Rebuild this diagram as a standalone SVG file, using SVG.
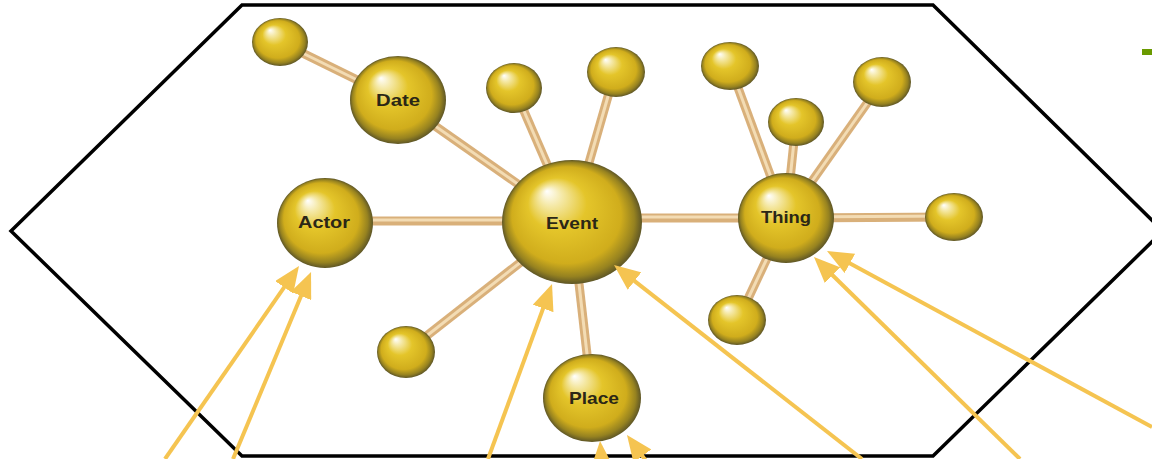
<svg xmlns="http://www.w3.org/2000/svg" width="1152" height="459" viewBox="0 0 1152 459">
<defs>
<radialGradient id="ball" cx="0.5" cy="0.5" r="0.5" fx="0.32" fy="0.25">
<stop offset="0" stop-color="#ffffff"/>
<stop offset="0.16" stop-color="#f5e9a8"/>
<stop offset="0.42" stop-color="#e4c52a"/>
<stop offset="0.78" stop-color="#d0ad1c"/>
<stop offset="0.92" stop-color="#968220"/>
<stop offset="1" stop-color="#5e5626"/>
</radialGradient>
<marker id="ah" viewBox="0 0 26 22" refX="16" refY="11" markerWidth="26" markerHeight="22" markerUnits="userSpaceOnUse" orient="auto">
<path d="M0,0 L26,11 L0,22 z" fill="#f5c451"/>
</marker>
<style>
.hex{fill:none;stroke:#000;stroke-width:3.5;stroke-linejoin:miter}
.rod{stroke:#d9b07a;stroke-width:9;stroke-linecap:butt}
.rodh{stroke:#f3dcb4;stroke-width:3;stroke-linecap:butt}
.b{fill:url(#ball)}
.lbl{font-family:"Liberation Sans",Arial,sans-serif;font-weight:bold;font-size:17px;fill:#2b2716;text-anchor:middle;dominant-baseline:central}
.arr{stroke:#f5c451;stroke-width:4;fill:none;marker-end:url(#ah)}
</style>
</defs>
<polygon class="hex" points="242,5 933,5 1163,231 933,456 242,456 11,231"/>
<rect x="1142" y="49" width="10" height="6" fill="#6a9a00"/>
<g id="connectors">
<g id="rods">
<line class="rod" x1="280" y1="42" x2="398" y2="100"/>
<line class="rod" x1="398" y1="100" x2="572" y2="222"/>
<line class="rod" x1="514" y1="88" x2="572" y2="222"/>
<line class="rod" x1="615" y1="72" x2="572" y2="222"/>
<line class="rod" x1="325" y1="221" x2="572" y2="221"/>
<line class="rod" x1="572" y1="218" x2="786" y2="218"/>
<line class="rod" x1="572" y1="222" x2="406" y2="352"/>
<line class="rod" x1="572" y1="222" x2="592" y2="398"/>
<line class="rod" x1="730" y1="66" x2="786" y2="218"/>
<line class="rod" x1="796" y1="122" x2="786" y2="218"/>
<line class="rod" x1="882" y1="82" x2="786" y2="218"/>
<line class="rod" x1="786" y1="218" x2="954" y2="217"/>
<line class="rod" x1="786" y1="218" x2="738" y2="320"/>
<line class="rodh" x1="280" y1="42" x2="398" y2="100"/>
<line class="rodh" x1="398" y1="100" x2="572" y2="222"/>
<line class="rodh" x1="514" y1="88" x2="572" y2="222"/>
<line class="rodh" x1="615" y1="72" x2="572" y2="222"/>
<line class="rodh" x1="325" y1="220" x2="572" y2="220"/>
<line class="rodh" x1="572" y1="217" x2="786" y2="217"/>
<line class="rodh" x1="572" y1="222" x2="406" y2="352"/>
<line class="rodh" x1="572" y1="222" x2="592" y2="398"/>
<line class="rodh" x1="730" y1="66" x2="786" y2="218"/>
<line class="rodh" x1="796" y1="122" x2="786" y2="218"/>
<line class="rodh" x1="882" y1="82" x2="786" y2="218"/>
<line class="rodh" x1="786" y1="217" x2="954" y2="216"/>
<line class="rodh" x1="786" y1="218" x2="738" y2="320"/>
</g>
</g>
<g id="n-s1"><ellipse class="b" cx="280" cy="42" rx="28" ry="24"/></g>
<g id="n-date"><ellipse class="b" cx="398" cy="100" rx="48" ry="44"/><text class="lbl" x="398" y="100" textLength="44" lengthAdjust="spacingAndGlyphs">Date</text></g>
<g id="n-s2"><ellipse class="b" cx="514" cy="88" rx="28" ry="25"/></g>
<g id="n-s3"><ellipse class="b" cx="616" cy="72" rx="29" ry="25"/></g>
<g id="n-s4"><ellipse class="b" cx="730" cy="66" rx="29" ry="24"/></g>
<g id="n-s5"><ellipse class="b" cx="796" cy="122" rx="28" ry="24"/></g>
<g id="n-s6"><ellipse class="b" cx="882" cy="82" rx="29" ry="25"/></g>
<g id="n-actor"><ellipse class="b" cx="325" cy="223" rx="48" ry="45"/><text class="lbl" x="324" y="222" textLength="52" lengthAdjust="spacingAndGlyphs">Actor</text></g>
<g id="n-event"><ellipse class="b" cx="572" cy="222" rx="70" ry="62"/><text class="lbl" x="572" y="223" textLength="52" lengthAdjust="spacingAndGlyphs">Event</text></g>
<g id="n-thing"><ellipse class="b" cx="786" cy="218" rx="48" ry="45"/><text class="lbl" x="786" y="217" textLength="50" lengthAdjust="spacingAndGlyphs">Thing</text></g>
<g id="n-s7"><ellipse class="b" cx="954" cy="217" rx="29" ry="24"/></g>
<g id="n-s8"><ellipse class="b" cx="737" cy="320" rx="29" ry="25"/></g>
<g id="n-s9"><ellipse class="b" cx="406" cy="352" rx="29" ry="26"/></g>
<g id="n-place"><ellipse class="b" cx="592" cy="398" rx="49" ry="44"/><text class="lbl" x="594" y="398" textLength="50" lengthAdjust="spacingAndGlyphs">Place</text></g>
<g id="arrows">
<line class="arr" x1="165" y1="459" x2="293.3" y2="274.2"/>
<line class="arr" x1="233" y1="459" x2="307.2" y2="281.2"/>
<line class="arr" x1="488" y1="459" x2="548.6" y2="293.4"/>
<line class="arr" x1="862" y1="459" x2="621.9" y2="271.2"/>
<line class="arr" x1="603" y1="480" x2="600.8" y2="451"/>
<line class="arr" x1="660" y1="480" x2="632.9" y2="443.1"/>
<line class="arr" x1="1020" y1="459" x2="821.1" y2="264"/>
<line class="arr" x1="1152" y1="427" x2="835.8" y2="255.8"/>
</g>
</svg>
